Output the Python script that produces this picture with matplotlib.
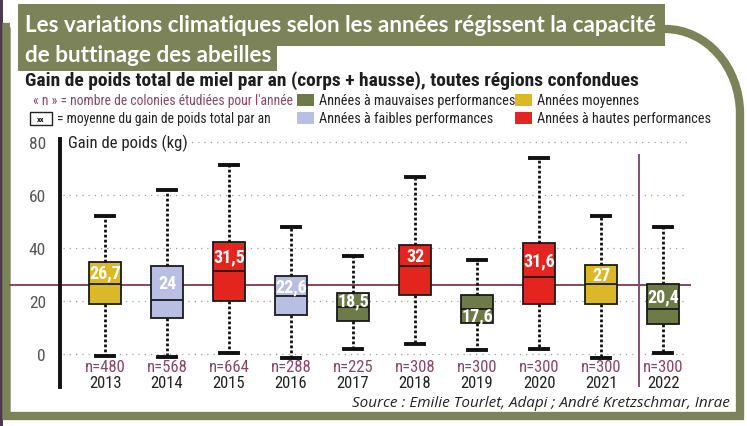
import matplotlib
matplotlib.use("Agg")
import matplotlib.pyplot as plt
from matplotlib.patches import Rectangle, PathPatch
from matplotlib.path import Path
from matplotlib import font_manager

# data (kg of honey per hive and year)
years = ['2013', '2014', '2015', '2016', '2017', '2018', '2019', '2020', '2021', '2022']
n_colonies = [480, 568, 664, 288, 225, 308, 300, 300, 300, 300]
means = [26.7, 24, 31.5, 22.6, 18.5, 32, 17.6, 31.6, 27, 20.4]
whisker_low = [-0.5, -1.0, 0.4, -1.3, 1.9, 3.9, 1.6, 1.9, -1.3, 0.5]
q1 = [18.9, 13.6, 20.3, 15.0, 12.7, 22.4, 11.9, 19.0, 19.0, 11.4]
medians = [26.7, 20.6, 31.4, 22.1, 17.9, 33.3, 17.2, 29.1, 26.4, 17.2]
q3 = [35.0, 33.2, 42.5, 29.4, 23.0, 41.1, 22.3, 41.9, 33.7, 26.7]
whisker_high = [52.1, 62.0, 71.3, 48.2, 37.1, 66.8, 35.5, 74.0, 52.2, 47.9]
performance = ['moyenne', 'faible', 'haute', 'faible', 'mauvaise',
               'haute', 'mauvaise', 'haute', 'moyenne', 'mauvaise']
overall_mean = 26.3

perf_colors = {'mauvaise': '#6e7a47', 'faible': '#b8bfe3',
               'moyenne': '#dcb826', 'haute': '#e3241f'}
olive = '#7d8358'
maroon = '#86476a'

available = {f.name for f in font_manager.fontManager.ttflist}
narrow = 'DejaVu Sans'
for name in ['Liberation Sans Narrow', 'Roboto Condensed', 'Open Sans Condensed', 'Roboto']:
    if name in available:
        narrow = name
        break
title_font = 'Lato' if 'Lato' in available else 'DejaVu Sans'

W, H = 747, 427
fig = plt.figure(figsize=(W / 100, H / 100), dpi=100, facecolor='white')

# decoration layer in pixel coordinates
deco = fig.add_axes([0, 0, 1, 1])
deco.set_xlim(0, W)
deco.set_ylim(H, 0)
deco.axis('off')

deco.add_patch(Rectangle((0, 0), 3, H, color='#4b3a4c', lw=0))
k = 0.5523
verts = [(10, 28), (6.5, 28), (6.5, 417), (740, 417), (740, 115),
         (740, 115 - k * 85), (665 + k * 75, 30), (665, 30)]
codes = [Path.MOVETO, Path.LINETO, Path.LINETO, Path.LINETO, Path.LINETO,
         Path.CURVE4, Path.CURVE4, Path.CURVE4]
deco.add_patch(PathPatch(Path(verts, codes), fill=False, ec=olive, lw=6, joinstyle='miter'))
deco.add_patch(Rectangle((18, 5), 647, 42, color=olive, lw=0))
deco.add_patch(Rectangle((18, 46), 259, 26, color=olive, lw=0))

deco.text(25, 25, "Les variations climatiques selon les années régissent la capacité",
          color='white', fontsize=16.2, fontweight='bold', family=title_font, va='center')
deco.text(25, 55, "de buttinage des abeilles",
          color='white', fontsize=16.2, fontweight='bold', family=title_font, va='center')
deco.text(25, 81, "Gain de poids total de miel par an (corps + hausse), toutes régions confondues",
          color='#1e1e1e', fontsize=14, fontweight='semibold', family=narrow, va='center')

# legend block
deco.text(33, 101, "« n » = nombre de colonies étudiées pour l'année",
          color=maroon, fontsize=9.8, family=narrow, va='center')
deco.add_patch(Rectangle((30, 113), 22, 13, fill=False, ec='#222222', lw=1))
deco.text(41, 119.5, "xx", color='#222222', fontsize=6, fontweight='bold',
          family=narrow, va='center', ha='center')
deco.text(57, 119, "= moyenne du gain de poids total par an",
          color='#222222', fontsize=9.8, family=narrow, va='center')
legend_items = [('mauvaise', "Années à mauvaises performances", 297, 101),
                ('moyenne', "Années moyennes", 515, 101),
                ('faible', "Années à faibles performances", 297, 119),
                ('haute', "Années à hautes performances", 515, 119)]
for key, label, lx, ly in legend_items:
    deco.add_patch(Rectangle((lx, ly - 6), 17, 12, color=perf_colors[key], lw=0))
    deco.text(lx + 22, ly, label, color='#222222', fontsize=10.3, family=narrow, va='center')

deco.text(730, 404, "Source : Emilie Tourlet, Adapi ; André Kretzschmar, Inrae",
          color='#222222', fontsize=11, style='italic', family='Open Sans',
          ha='right', va='center')

# chart area: x pixels 60..690, y pixels 140..388
ax = fig.add_axes([60 / W, (H - 388) / H, 630 / W, 248 / H])
ax.patch.set_alpha(0)
ax.set_xlim(-0.726, 9.435)
ax.set_ylim(-12.3, 81.2)

for g in [0, 20, 40, 60]:
    ax.hlines(g, -0.68, 9.4, colors='#a0a0a0', lw=0.9, linestyles=(0, (1, 4)))
ax.hlines(80, 1.2, 9.4, colors='#a0a0a0', lw=0.9, linestyles=(0, (1, 4)))

ax.axhline(overall_mean, xmin=-50 / 630, xmax=1, color='#8b4653', lw=1.4, clip_on=False, zorder=1)
ax.vlines(8.62, -12.3, 75.6, colors='#8a4a80', lw=1.4)

stats = []
for i in range(len(years)):
    stats.append({'whislo': whisker_low[i], 'q1': q1[i], 'med': medians[i],
                  'q3': q3[i], 'whishi': whisker_high[i], 'label': years[i]})
bp = ax.bxp(stats, positions=range(len(years)), widths=0.53, patch_artist=True,
            showfliers=False, capwidths=0.28,
            boxprops=dict(lw=1.3, edgecolor='#1a1a1a'),
            medianprops=dict(color='#1a1a1a', lw=1.3),
            whiskerprops=dict(color='#111111', lw=2, linestyle=(0, (1, 0.8))),
            capprops=dict(color='#111111', lw=2.8), zorder=3)
for box, perf in zip(bp['boxes'], performance):
    box.set_facecolor(perf_colors[perf])

for i, m in enumerate(means):
    # label sits in the upper half of the box, except 2019 where it goes below the median
    if years[i] == '2019':
        ypos = (q1[i] + medians[i]) / 2
    else:
        ypos = (medians[i] + q3[i]) / 2
    ax.text(i, ypos, f"{m:g}".replace('.', ','), color='white', fontsize=13,
            fontweight='bold', family=narrow, ha='center', va='center', zorder=4)

xt = ax.get_xaxis_transform()
for i, (y, n) in enumerate(zip(years, n_colonies)):
    ax.text(i, 0.081, f"n={n}", transform=xt, color=maroon, fontsize=12,
            family=narrow, ha='center', va='center')
    ax.text(i, 0.02, y, transform=xt, color='#222222', fontsize=12,
            family=narrow, ha='center', va='center')

ax.set_xticks([])
ax.set_yticks([0, 20, 40, 60, 80])
ax.set_yticklabels(['0', '20', '40', '60', '80'], color='#555555', fontsize=12.5, family=narrow)
ax.tick_params(axis='y', length=0, pad=10)
for s in ['top', 'right', 'bottom']:
    ax.spines[s].set_visible(False)
ax.spines['left'].set_linewidth(2.8)
ax.spines['left'].set_color('#111111')
ax.text(0.013, 80, "Gain de poids (kg)", transform=ax.get_yaxis_transform(),
        color='#222222', fontsize=12, family=narrow, va='center')

fig.savefig("out.png", dpi=100, facecolor='white')
